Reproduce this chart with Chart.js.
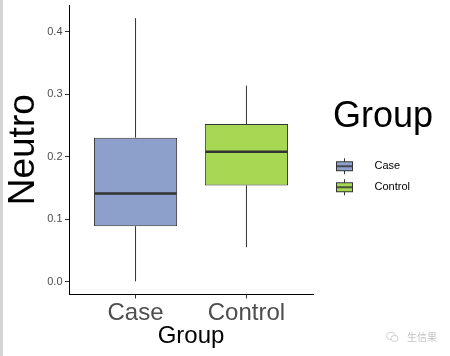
<!DOCTYPE html>
<html>
<head>
<meta charset="utf-8">
<script src="https://cdn.jsdelivr.net/npm/chart.js@4.4.1/dist/chart.umd.min.js"></script>
<style>
  html, body { margin: 0; padding: 0; background: #ffffff; }
  #wrap { position: relative; width: 450px; height: 356px; overflow: hidden; }
  #strip { position: absolute; left: 0; top: 0; width: 3px; height: 356px; background: #d4d4d4; }
  #wm { position: absolute; left: 386px; top: 329px; display: flex; align-items: center;
        font-family: "Noto Sans CJK SC", sans-serif; font-size: 10px; color: #c4c4c4; }
  #wm svg { margin-right: 8px; }
</style>
</head>
<body>
<div id="wrap">
  <canvas id="c" width="450" height="356"></canvas>
  <div id="strip"></div>
  <div id="wm">
    <svg width="13" height="12" viewBox="0 0 13 12"><ellipse cx="5" cy="5" rx="4.3" ry="3.6" fill="none" stroke="#cfcfcf" stroke-width="1"/><ellipse cx="8.5" cy="7.5" rx="3.6" ry="3" fill="#fff" stroke="#cfcfcf" stroke-width="1"/></svg>
    <span>生信果</span>
  </div>
</div>
<script>
// ---- data ----
const categories   = ['Case', 'Control'];
const whiskerLow   = [0.001, 0.0555];
const q1           = [0.0891, 0.1542];
const median       = [0.1414, 0.2080];
const q3           = [0.2304, 0.2523];
const whiskerHigh  = [0.4214, 0.3136];
const yTicks       = [0.0, 0.1, 0.2, 0.3, 0.4];
const fillColors   = ['#8DA0CB', '#A6D854'];

const FONT = '"Liberation Sans", Arial, sans-serif';
const LINE = '#333333';
const LEGEND_W = 110;

// y range with ggplot-like 5% expansion
const lo = Math.min(...whiskerLow), hi = Math.max(...whiskerHigh);
const ypad = (hi - lo) * 0.05;

// legend key images (box-plot glyphs)
function makeKey(fill) {
  const c = document.createElement('canvas');
  c.width = 42; c.height = 18;
  const g = c.getContext('2d');
  g.strokeStyle = LINE; g.lineWidth = 1;
  g.beginPath(); g.moveTo(9.5, 1); g.lineTo(9.5, 17); g.stroke();
  g.fillStyle = fill;
  g.fillRect(1.5, 4.5, 16, 9);
  g.strokeRect(1.5, 4.5, 16, 9);
  g.lineWidth = 1.6;
  g.beginPath(); g.moveTo(1.5, 9); g.lineTo(17.5, 9); g.stroke();
  return c;
}
const keyImages = fillColors.map(makeKey);

const legendWidth = {
  id: 'legendWidth',
  beforeLayout(chart) {
    const lg = chart.legend;
    if (lg && !lg.__wrapped) {
      const orig = lg.fit;
      lg.fit = function () { orig.call(this); this.width = LEGEND_W; };
      lg.__wrapped = true;
    }
  }
};

const boxParts = {
  id: 'boxParts',
  beforeDatasetsDraw(chart) {
    const {ctx, scales: {x, y}} = chart;
    ctx.save();
    ctx.strokeStyle = LINE; ctx.lineWidth = 1;
    categories.forEach((c, i) => {
      const px = x.getPixelForValue(i + 1);
      ctx.beginPath();
      ctx.moveTo(px, y.getPixelForValue(whiskerHigh[i]));
      ctx.lineTo(px, y.getPixelForValue(q3[i]));
      ctx.moveTo(px, y.getPixelForValue(q1[i]));
      ctx.lineTo(px, y.getPixelForValue(whiskerLow[i]));
      ctx.stroke();
    });
    ctx.restore();
  },
  afterDatasetsDraw(chart) {
    const {ctx, scales: {y}} = chart;
    const meta = chart.getDatasetMeta(0);
    ctx.save();
    ctx.strokeStyle = LINE; ctx.lineWidth = 2.6;
    meta.data.forEach((bar, i) => {
      const hw = bar.width / 2 - 0.5;
      const py = y.getPixelForValue(median[i]);
      ctx.beginPath();
      ctx.moveTo(bar.x - hw, py);
      ctx.lineTo(bar.x + hw, py);
      ctx.stroke();
    });
    ctx.restore();
  }
};

new Chart(document.getElementById('c'), {
  type: 'bar',
  data: {
    datasets: [{
      label: 'Group',
      data: categories.map((c, i) => ({x: i + 1, y: [q1[i], q3[i]]})),
      backgroundColor: fillColors,
      borderColor: LINE,
      borderWidth: 1,
      borderSkipped: false,
      categoryPercentage: 1,
      barPercentage: 0.75
    }]
  },
  options: {
    responsive: false,
    animation: false,
    devicePixelRatio: 1,
    layout: { padding: { top: 5, left: 0, bottom: 0, right: 450 - 333 - LEGEND_W } },
    plugins: {
      tooltip: { enabled: false },
      legend: {
        position: 'right',
        align: 'start',
        onClick: null,
        title: {
          display: true,
          text: 'Group',
          position: 'start',
          color: '#000000',
          font: { family: FONT, size: 36 },
          padding: { top: 94.5, bottom: 8 }
        },
        labels: {
          usePointStyle: true,
          pointStyleWidth: 26,
          padding: 10,
          color: '#000000',
          font: { family: FONT, size: 11 },
          generateLabels: () => categories.map((c, i) => ({
            text: c,
            fillStyle: fillColors[i],
            strokeStyle: LINE,
            lineWidth: 0,
            pointStyle: keyImages[i],
            hidden: false,
            index: i,
            datasetIndex: 0,
            fontColor: '#000000'
          }))
        }
      }
    },
    scales: {
      x: {
        type: 'linear',
        position: 'bottom',
        offset: false,
        min: 0.4,
        max: 2.6,
        afterBuildTicks: s => { s.ticks = categories.map((c, i) => ({value: i + 1})); },
        afterFit: s => { s.height = 61.5; s.paddingLeft = 0; s.paddingRight = 0; },
        grid: { display: true, offset: false, drawOnChartArea: false, drawTicks: true, tickLength: 4, color: LINE },
        border: { display: true, color: '#000000', width: 1 },
        ticks: {
          autoSkip: false, maxRotation: 0, minRotation: 0, padding: 0.4,
          color: '#4D4D4D',
          font: { family: FONT, size: 24 },
          callback: v => categories[Math.round(v) - 1] || ''
        },
        title: {
          display: true, text: 'Group', color: '#000000',
          font: { family: FONT, size: 24 },
          padding: { top: 0, bottom: 4.9 }
        }
      },
      y: {
        type: 'linear',
        position: 'left',
        min: lo - ypad,
        max: hi + ypad,
        afterBuildTicks: s => { s.ticks = yTicks.map(v => ({value: v})); },
        afterFit: s => { s.width = 69; s.paddingTop = 0; s.paddingBottom = 0; },
        grid: { display: true, drawOnChartArea: false, drawTicks: true, tickLength: 4, color: LINE },
        border: { display: true, color: '#000000', width: 1 },
        ticks: {
          padding: 2.5,
          color: '#4D4D4D',
          font: { family: FONT, size: 11 },
          callback: v => Number(v).toFixed(1)
        },
        title: {
          display: true, text: 'Neutro', color: '#000000',
          font: { family: FONT, size: 37 },
          padding: { top: 1.5, bottom: 0 }
        }
      },
      gap: {
        type: 'linear',
        position: 'right',
        display: true,
        grid: { display: false },
        border: { display: false },
        ticks: { display: false },
        afterFit: s => { s.width = 20; s.paddingTop = 0; s.paddingBottom = 0; }
      }
    }
  },
  plugins: [legendWidth, boxParts]
});
</script>
</body>
</html>
